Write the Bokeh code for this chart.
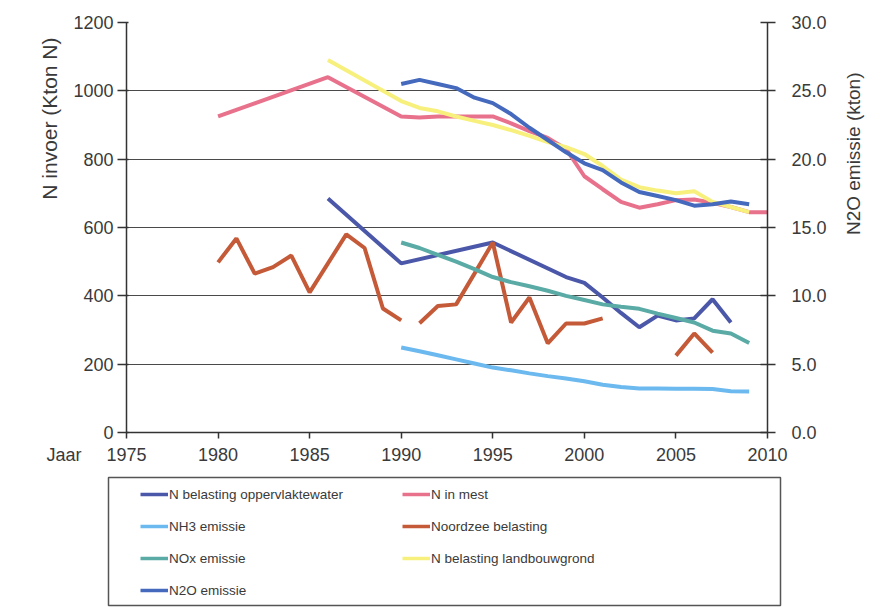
import math
from bokeh.plotting import figure
from bokeh.models import (Range1d, LinearAxis, FixedTicker, NumeralTickFormatter,
                          Legend, LegendItem, Title)
from bokeh.layouts import column, row
from bokeh.embed import file_html
from bokeh.resources import INLINE

# ---------------- data ----------------
x_ticks = [1975, 1980, 1985, 1990, 1995, 2000, 2005, 2010]
left_ticks = [0, 200, 400, 600, 800, 1000, 1200]
right_ticks = [0, 5, 10, 15, 20, 25, 30]
x_label = "Jaar"
left_label = "N invoer (Kton N)"
right_label = "N2O emissie (kton)"

opp_years = [1986, 1990, 1995, 1999, 2000, 2001, 2002, 2003, 2004, 2005, 2006, 2007, 2008]
opp_vals = [685, 495, 556, 455, 438, 395, 350, 308, 342, 328, 334, 390, 322]

mest_years = [1980, 1986, 1990, 1991, 1992, 1993, 1994, 1995, 1996, 1997, 1998, 1999,
              2000, 2001, 2002, 2003, 2004, 2005, 2006, 2007, 2008, 2009, 2010]
mest_vals = [925, 1040, 925, 922, 925, 925, 925, 925, 905, 882, 862, 830,
             750, 712, 675, 658, 668, 680, 682, 672, 660, 645, 645]

nh3_years = list(range(1990, 2010))
nh3_vals = [249, 238, 226, 214, 202, 190, 182, 173, 165, 158, 150, 140, 133, 129, 129,
            128, 128, 127, 121, 120]

nz_years = [1980, 1981, 1982, 1983, 1984, 1985, 1986, 1987, 1988, 1989, 1990, 1990.5,
            1991, 1992, 1993, 1994, 1995, 1996, 1997, 1998, 1999, 2000, 2001, 2003,
            2005, 2006, 2007]
nz_vals = [498, 568, 465, 484, 518, 410, 495, 580, 540, 363, 328, float("nan"),
           320, 370, 375, 465, 556, 322, 395, 261, 319, 319, 334, float("nan"),
           225, 290, 234]

nox_years = list(range(1990, 2010))
nox_vals = [556, 540, 520, 500, 478, 455, 440, 428, 415, 400, 388, 375, 368, 362, 348,
            335, 322, 298, 290, 262]

landb_years = [1986, 1990, 1991, 1992, 1993, 1994, 1995, 1996, 1997, 1998, 1999, 2000,
               2001, 2002, 2003, 2004, 2005, 2006, 2007, 2008, 2009]
landb_vals = [1090, 970, 950, 940, 925, 912, 900, 885, 868, 850, 835, 815,
              780, 740, 718, 708, 700, 706, 675, 660, 645]

n2o_years = list(range(1990, 2010))
n2o_vals = [25.5, 25.8, 25.5, 25.2, 24.5, 24.1, 23.3, 22.3, 21.4, 20.5, 19.7, 19.2,
            18.3, 17.6, 17.3, 17.0, 16.6, 16.7, 16.9, 16.7]

names = ["N belasting oppervlaktewater", "N in mest", "NH3 emissie", "Noordzee belasting",
         "NOx emissie", "N belasting landbouwgrond", "N2O emissie"]

# ---------------- styling ----------------
C_OPP = "#4b57a8"
C_MEST = "#e8718c"
C_NH3 = "#6bb9ef"
C_NZ = "#c45a37"
C_NOX = "#5aaba6"
C_LANDB = "#f7f07c"
C_N2O = "#4569bd"
TXT = "#3a3a3a"
FONT = "Liberation Sans"
LW = 4

H_MAIN = 470
p = figure(width=830, height=H_MAIN, output_backend="svg", toolbar_location=None,
           x_range=Range1d(1975, 2010), y_range=Range1d(0, 1200),
           min_border_left=126, min_border_right=63, min_border_top=22,
           min_border_bottom=H_MAIN - 432)
p.extra_y_ranges = {"right": Range1d(0, 30)}
p.outline_line_color = None

p.xgrid.grid_line_color = None
p.ygrid.grid_line_color = "#4a4a4a"
p.ygrid.grid_line_width = 1
p.ygrid.ticker = FixedTicker(ticks=left_ticks)

def style_axis(ax):
    ax.axis_line_color = "#333333"
    ax.axis_line_width = 1.5
    ax.major_tick_line_color = "#333333"
    ax.major_tick_line_width = 1.5
    ax.minor_tick_line_color = None
    ax.major_label_text_font = FONT
    ax.major_label_text_font_size = "18px"
    ax.major_label_text_color = TXT

NB = "\u00a0"
p.xaxis.ticker = FixedTicker(ticks=x_ticks)
p.xaxis.major_label_overrides = {x_ticks[0]: x_label + NB * 5 + str(x_ticks[0]) + NB * 12}
style_axis(p.xaxis[0])
p.xaxis.major_tick_in = 0
p.xaxis.major_tick_out = 6
p.xaxis.major_label_standoff = 6

p.yaxis.ticker = FixedTicker(ticks=left_ticks)
style_axis(p.yaxis[0])
p.yaxis.major_tick_in = 2
p.yaxis.major_tick_out = 9
p.yaxis.major_label_standoff = 4

ry = LinearAxis(y_range_name="right", ticker=FixedTicker(ticks=right_ticks),
                formatter=NumeralTickFormatter(format="0.0"))
style_axis(ry)
ry.major_tick_in = 7
ry.major_tick_out = 8
ry.major_label_standoff = 16
p.add_layout(ry, "right")

has_standoff = "standoff" in Title.properties()

lt = Title(text=left_label, align="right", offset=15, vertical_align="bottom",
           text_font=FONT, text_font_size="21px", text_color=TXT, text_font_style="normal")
if has_standoff:
    lt.standoff = 20
p.add_layout(lt, "left")

r_opp = p.line(opp_years, opp_vals, line_color=C_OPP, line_width=LW)
r_mest = p.line(mest_years, mest_vals, line_color=C_MEST, line_width=LW)
r_nh3 = p.line(nh3_years, nh3_vals, line_color=C_NH3, line_width=LW)
r_nz = p.line(nz_years, nz_vals, line_color=C_NZ, line_width=LW)
r_nox = p.line(nox_years, nox_vals, line_color=C_NOX, line_width=LW)
r_landb = p.line(landb_years, landb_vals, line_color=C_LANDB, line_width=LW)
r_n2o = p.line(n2o_years, n2o_vals, line_color=C_N2O, line_width=LW, y_range_name="right")

# right-hand axis title (reads bottom to top), as a left-side title of a narrow strip
fr = figure(width=888 - 830, height=H_MAIN, output_backend="svg", toolbar_location=None,
            x_range=Range1d(0, 1), y_range=Range1d(0, 1),
            min_border_left=0, min_border_right=0, min_border_top=0, min_border_bottom=0)
fr.axis.visible = False
fr.grid.visible = False
fr.outline_line_color = None
rt = Title(text=right_label, align="right", offset=50, vertical_align="bottom",
           text_font=FONT, text_font_size="19px", text_color=TXT, text_font_style="normal")
if has_standoff:
    rt.standoff = 20
fr.add_layout(rt, "left")

# ---------------- legend panel ----------------
leg = figure(width=888, height=607 - H_MAIN, output_backend="svg", toolbar_location=None,
             x_range=Range1d(0, 1), y_range=Range1d(0, 1),
             min_border_left=108, min_border_right=108, min_border_top=7, min_border_bottom=2)
leg.axis.visible = False
leg.grid.visible = False
leg.outline_line_color = "#555555"
leg.outline_line_width = 1.5

series = [(opp_years, opp_vals, C_OPP), (mest_years, mest_vals, C_MEST),
          (nh3_years, nh3_vals, C_NH3), (nz_years, nz_vals, C_NZ),
          (nox_years, nox_vals, C_NOX), (landb_years, landb_vals, C_LANDB),
          (n2o_years, n2o_vals, C_N2O)]
renderers = [leg.line(xs, ys, line_color=c, line_width=3.5) for xs, ys, c in series]

order = [0, 2, 4, 6, 1, 3, 5]
items = [LegendItem(label=names[i], renderers=[renderers[i]]) for i in order]
legend = Legend(items=items, ncols=2, location=(32, 5), padding=0, margin=0,
                spacing=12, glyph_width=28, glyph_height=20, label_standoff=1,
                label_width=221, label_height=20,
                label_text_font=FONT, label_text_font_size="13.5px", label_text_color=TXT,
                border_line_alpha=0, background_fill_alpha=0)
leg.add_layout(legend, "center")

layout = column(row(p, fr, spacing=0), leg, spacing=0)
open("out.html", "w").write(file_html(layout, INLINE))
